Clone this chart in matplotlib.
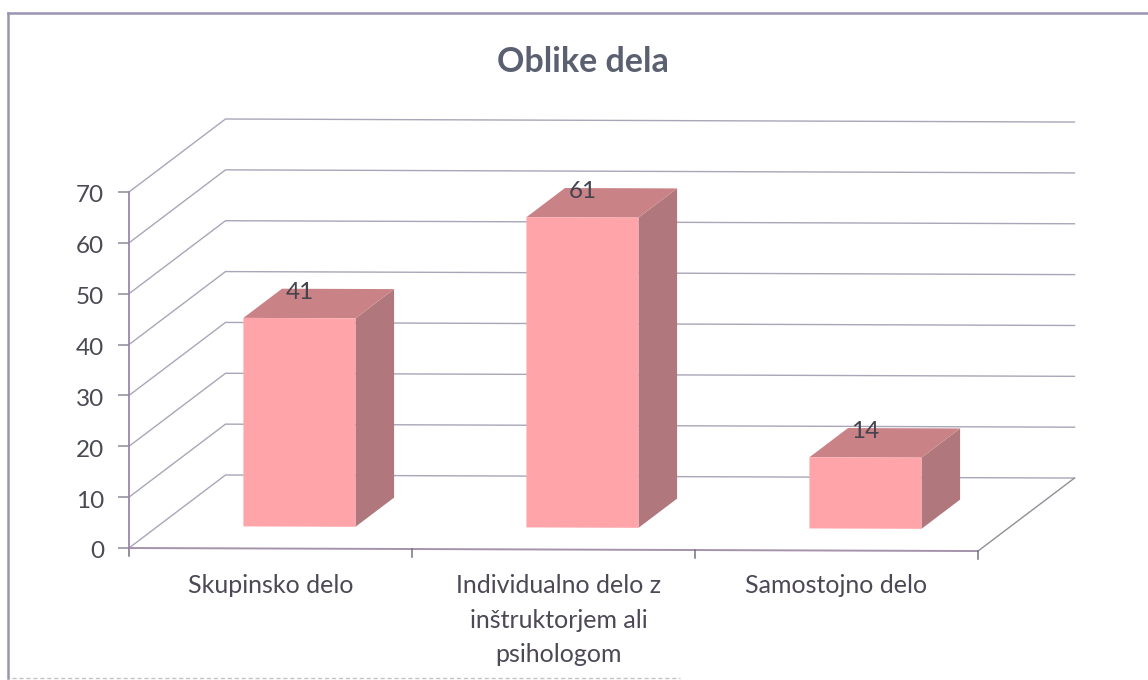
import matplotlib
matplotlib.use("Agg")
import matplotlib.pyplot as plt
from matplotlib.lines import Line2D
from matplotlib.patches import Polygon
from matplotlib.transforms import ScaledTranslation

plt.rcParams['font.family'] = ['Lato', 'DejaVu Sans']

title = "Oblike dela"
categories = ["Skupinsko delo", "Individualno delo z\ninštruktorjem ali\npsihologom", "Samostojno delo"]
values = [41, 61, 14]
y_ticks = [0, 10, 20, 30, 40, 50, 60, 70]

W, H = 1148, 680
x0, x1 = 129, 978   # pixels of the front axis
y0, y70 = 548, 192

# depth of the fake 3d box, in axis units
dx = 96.5 / ((x1 - x0) / 3)
dy = 73 / ((y0 - y70) / 70)
tilt = 0.2  # the scan is a little crooked


def pt(x, v, d=0):
    return (x + d * dx, v + d * dy - tilt * x)


fig = plt.figure(figsize=(W / 100, H / 100), dpi=100, facecolor="white")
ax = fig.add_axes([x0 / W, 1 - y0 / H, (x1 - x0) / W, (y0 - y70) / H])
ax.set_xlim(0, 3)
ax.set_ylim(0, 70)
ax.patch.set_visible(False)

axis_col = "#9b86ad"
grid_col = "#a9a6b8"

# walls
for v in y_ticks:
    xs, ys = zip(pt(0, v), pt(0, v, 1), pt(3, v, 1))
    ax.plot(xs, ys, color=grid_col, lw=1.0, clip_on=False, zorder=1)
xs, ys = zip(pt(3, 0, 1), pt(3, 0))
ax.plot(xs, ys, color="#8f8f98", lw=1.0, clip_on=False, zorder=1)
xs, ys = zip(pt(0, 0), pt(3, 0))
ax.plot(xs, ys, color="#a592ab", lw=1.4, clip_on=False, zorder=2)
for i in range(4):
    tx, ty = pt(i, 0)
    ax.plot([tx, tx], [ty, ty - 1.6], color="#77707f", lw=1.1, clip_on=False, zorder=2)

# bars
bar_w = 0.396
d_front, d_back = 0.3, 0.7
for i, v in enumerate(values):
    left = i + 0.5 - bar_w / 2
    right = left + bar_w
    side = [pt(right, 0, d_front), pt(right, 0, d_back), pt(right, v, d_back), pt(right, v, d_front)]
    top = [pt(left, v, d_front), pt(right, v, d_front), pt(right, v, d_back), pt(left, v, d_back)]
    front = [pt(left, 0, d_front), pt(right, 0, d_front), pt(right, v, d_front), pt(left, v, d_front)]
    ax.add_patch(Polygon(side, facecolor="#b0787d", edgecolor="none", clip_on=False, zorder=3))
    ax.add_patch(Polygon(top, facecolor="#c98386", edgecolor="none", clip_on=False, zorder=3))
    ax.add_patch(Polygon(front, facecolor="#ffa5a9", edgecolor="none", clip_on=False, zorder=4))
    lx = pt(i + 0.5, v, d_front)[0]
    ly = pt(i + 0.5, v, 0.65)[1]
    ax.text(lx, ly, str(v), ha="center", va="center", fontsize=17.5, color="#45434f", zorder=5)

for s in ["top", "right", "bottom"]:
    ax.spines[s].set_visible(False)
ax.spines["left"].set_color(axis_col)
ax.spines["left"].set_linewidth(1.3)

ax.set_yticks(y_ticks)
ax.tick_params(axis="y", length=8, width=1.1, color="#8f8a99", labelsize=17.5, labelcolor="#4a4a55", pad=10)
for lab in ax.get_yticklabels():
    lab.set_transform(lab.get_transform() + ScaledTranslation(0, -2 / 100, fig.dpi_scale_trans))
ax.set_xticks([])
ax.set_xticks([0.5, 1.5, 2.5], categories, minor=True)
ax.tick_params(axis="x", which="minor", length=0, labelsize=18, labelcolor="#4c4856", pad=19)
labs = ax.get_xticklabels(minor=True)
for lab in labs:
    lab.set_linespacing(1.6)
labs[1].set_transform(labs[1].get_transform() + ScaledTranslation(5 / 100, 0, fig.dpi_scale_trans))

fig.text(583 / W, 1 - 62 / H, title, ha="center", va="center", fontsize=24.5, fontweight="bold", color="#5b6070")

# what is left of the chart frame on the scan
frame_col = "#9a94b0"
fig.add_artist(Line2D([8 / W, 8 / W], [1 - 678 / H, 1 - 13 / H], color=frame_col, lw=1.8))
fig.add_artist(Line2D([8 / W, 1], [1 - 13 / H, 1 - 13 / H], color=frame_col, lw=1.8))
fig.add_artist(Line2D([12 / W, 680 / W], [1 - 677.5 / H, 1 - 677.5 / H], color="#c4c4c8", lw=1, ls=(0, (3, 2))))

fig.savefig("out.png", dpi=100)
